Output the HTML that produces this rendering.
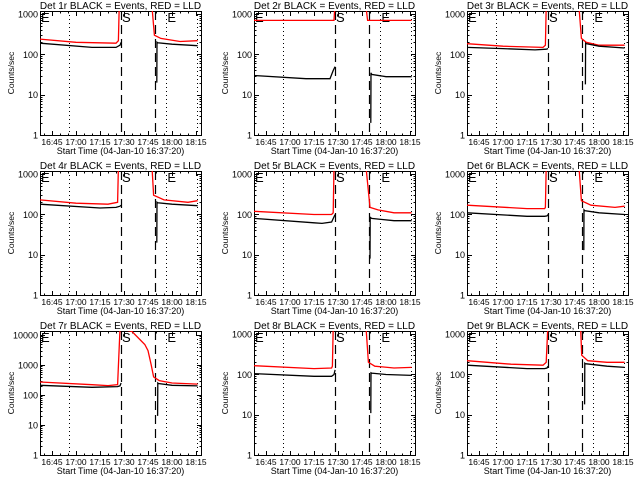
<!DOCTYPE html>
<html><head><meta charset="utf-8"><style>
body{margin:0;background:#fff;width:640px;height:480px;overflow:hidden}
svg{display:block}
text{font-family:"Liberation Sans",sans-serif;fill:#000}
</style></head><body>
<svg id="chart" width="640" height="480" viewBox="0 0 640 480"></svg>
<script>
const panelTitles=["Det 1r","Det 2r","Det 3r","Det 4r","Det 5r","Det 6r","Det 7r","Det 8r","Det 9r"];
const yMaxes=[1200,1200,1200,1200,1200,1200,13500,1200,1200];
const xTickMinutes=[45,60,75,90,105,120,135];
const xTickLabels=["16:45","17:00","17:15","17:30","17:45","18:00","18:15"];
const dottedTimes=[55.6,116.5,135.3];
const dashedTimes=[88.1,109.4];
const blackT=[
[37.5,70,85,87.5,88.2,null,110.5,110.6,111,120,136],
[37.5,70,85,87,88.2,null,110.5,110.6,111,120,136],
[37.5,60,80,87,88.2,null,111.5,111.6,112,120,136],
[37.5,75,85,87.5,88.2,null,110.5,110.6,111,120,136],
[37.5,75,80,86,88.2,null,110,110.1,111,125,136],
[37.5,75,86,87.5,88.2,null,110.5,110.6,111,120,136],
[37.5,70,86,87.5,88.2,null,111,111.1,111.5,120,136],
[37.5,75,86,87.5,88.2,null,110.5,110.6,111,120,136],
[37.5,75,86,87.5,88.2,null,111,111.1,111.5,125,136]];
const blackV=[
[190,150,150,170,200,null,20,200,195,180,165],
[30,25,25,40,50,null,2,35,32,28,28],
[150,140,130,135,140,null,18,190,185,160,145],
[180,145,150,160,170,null,20,200,195,180,165],
[80,62,60,65,100,null,8,85,80,70,70],
[110,90,90,92,100,null,13,130,125,110,100],
[210,180,190,200,250,null,20,250,240,210,200],
[105,90,90,100,130,null,11,110,108,100,95],
[170,140,140,145,160,null,18,190,185,160,150]];
const redT=[
[37.5,60,85,86.5,87,null,107.5,109,113,125,136],
[37.5,70,86,87.5,88,null,107.5,108.5,113,125,136],
[37.5,60,85,86.5,87,null,107.5,109,112,120,136],
[37.5,60,80,86,86.5,null,107.5,108.5,115,130,136],
[37.5,75,86,87,87.5,null,107.5,110,115,125,136],
[37.5,75,86,86.5,87,null,107.5,109,115,130,136],
[37.5,70,80,86,87.5,95,103,105,107,108.5,112,120,136],
[37.5,75,86,86.5,87,null,107.5,109,113,125,136],
[37.5,65,85,87,88,null,108.5,109.2,113,125,136]];
const redV=[
[240,200,190,220,1500,null,1500,300,250,210,220],
[700,700,700,700,1500,null,1500,700,700,700,700],
[185,160,150,170,1500,null,1500,250,200,170,170],
[230,190,180,200,1500,null,1500,300,230,200,220],
[120,100,100,110,1500,null,1500,150,130,110,110],
[170,140,140,150,1500,null,1500,220,170,150,160],
[270,220,205,220,16000,13000,4800,3000,1000,400,300,250,230],
[165,140,145,160,1500,null,1500,200,160,145,150],
[220,180,170,200,1500,null,1500,300,220,200,200]];

const NS="http://www.w3.org/2000/svg";
const svg=document.getElementById('chart');
function mk(tag,attrs,parent){const e=document.createElementNS(NS,tag);for(const k in attrs)e.setAttribute(k,attrs[k]);(parent||svg).appendChild(e);return e;}
const T0=37.5,T1=138.1,BW=161,BH=124;
for(let p=0;p<9;p++){
  const col=p%3,row=Math.floor(p/3);
  const L=40+Math.round(col*213.5),Tp=11+row*160,R=L+BW,B=Tp+BH;
  const ymax=yMaxes[p];
  const xs=t=>L+(t-T0)/(T1-T0)*BW;
  const ys=v=>B-Math.log10(v)/Math.log10(ymax)*BH;
  const g=mk('g',{});
  
  
  const clipId='c'+p;
  const cp=mk('clipPath',{id:clipId},g);mk('rect',{x:L,y:Tp,width:BW,height:BH},cp);
  const title=mk('text',{x:(L+R)/2,y:Tp-2,'text-anchor':'middle','font-size':'10'},g);
  title.textContent=panelTitles[p]+" BLACK = Events, RED = LLD";
  
  
  const box=mk('rect',{x:L+0.5,y:Tp+0.5,width:BW,height:BH,fill:'none',stroke:'#000','stroke-width':1},g);
  
  
  const dec=Math.floor(Math.log10(ymax));
  for(let d=0;d<=dec;d++){
    for(let m=1;m<10;m++){
      const v=m*Math.pow(10,d); if(v>ymax)break;
      const y=Math.round(ys(v))+0.5, len=m===1?5:2.5;
      mk('line',{x1:L,x2:L+len,y1:y,y2:y,stroke:'#000'},g);
      mk('line',{x1:R+1-len,x2:R+1,y1:y,y2:y,stroke:'#000'},g);
    }
    const lab=mk('text',{x:L-2,y:ys(Math.pow(10,d))+3.5,'text-anchor':'end','font-size':'9'},g);
    lab.textContent=String(Math.pow(10,d));
    
    
  }
  for(let t=40;t<=T1;t+=5){
    const x=Math.round(xs(t))+0.5,len=(t%15===0)?5:2.5;
    mk('line',{x1:x,x2:x,y1:B+1,y2:B+1-len,stroke:'#000'},g);
    mk('line',{x1:x,x2:x,y1:Tp,y2:Tp+len,stroke:'#000'},g);
  }
  xTickMinutes.forEach((t,i)=>{
    const lab=mk('text',{x:xs(t),y:B+10,'text-anchor':'middle','font-size':'8.5'},g);
    lab.textContent=xTickLabels[i];
    
    
  });
  const xt=mk('text',{x:(L+R)/2,y:B+19,'text-anchor':'middle','font-size':'9'},g);
  xt.textContent="Start Time (04-Jan-10 16:37:20)";
  
  
  const yt=mk('text',{x:0,y:0,'text-anchor':'middle','font-size':'8.5',transform:`translate(${L-26},${(Tp+B)/2}) rotate(-90)`},g);
  yt.textContent="Counts/sec";
  
  
  dottedTimes.forEach(t=>{const x=Math.round(xs(t))+0.5;
    const l=mk('line',{x1:x,x2:x,y1:Tp,y2:B,stroke:'#000','stroke-dasharray':'1 3'},g);
    
    });
  dashedTimes.forEach(t=>{const x=Math.round(xs(t))+0.5;
    const l=mk('line',{x1:x,x2:x,y1:Tp,y2:B,stroke:'#000','stroke-width':1.2,'stroke-dasharray':'9 5'},g);
    
    });
  [[L+1,'E'],[xs(dashedTimes[0])+1,'S'],[xs(dottedTimes[1])+1,'E']].forEach(([x,s])=>{
    const e=mk('text',{x:x,y:Tp+11,'font-size':'13'},g);e.textContent=s;
    
    });
  function path(tArr,vArr,color,name){
    let d='',pen=false;
    for(let i=0;i<tArr.length;i++){
      if(tArr[i]===null){pen=false;continue;}
      d+=(pen?'L':'M')+xs(tArr[i]).toFixed(1)+' '+ys(vArr[i]).toFixed(1)+' ';pen=true;
    }
    const e=mk('path',{d:d,fill:'none',stroke:color,'stroke-width':1.3,'clip-path':`url(#${clipId})`},g);
    
    
  }
  path(redT[p],redV[p],'#ff0000','lld-series');
  path(blackT[p],blackV[p],'#000000','events-series');
}
</script>
</body></html>
